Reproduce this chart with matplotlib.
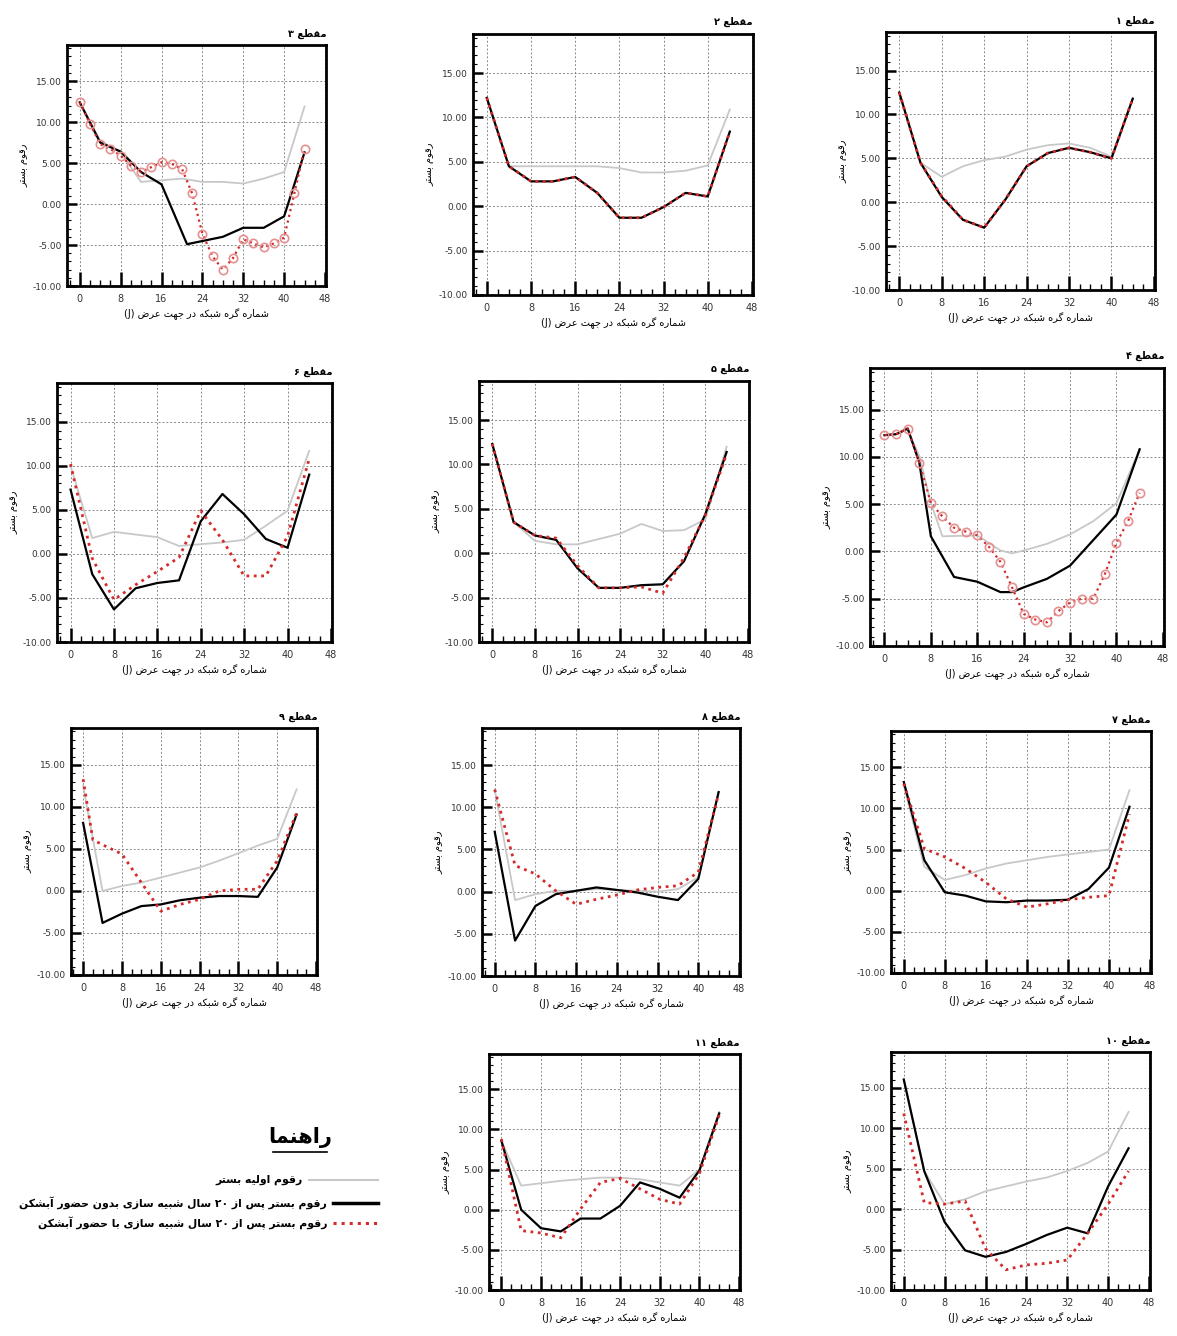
import re
import matplotlib
matplotlib.use("Agg")
import matplotlib.pyplot as plt
from matplotlib.lines import Line2D
from matplotlib.ticker import MultipleLocator, FormatStrFormatter

# ---------------- data (bed levels read from the sections) ----------------
j4 = [0, 4, 8, 12, 16, 20, 24, 28, 32, 36, 40, 44]
j2 = [0, 2, 4, 6, 8, 10, 12, 14, 16, 18, 20, 22, 24, 26, 28, 30, 32, 34, 36, 38, 40, 42, 44]

# section 1
s1_init = [12.5, 4.5, 2.9, 4.1, 4.8, 5.2, 6.0, 6.5, 6.7, 6.2, 5.2, 11.8]
s1_no = [12.5, 4.5, 0.6, -2.0, -2.9, 0.3, 4.1, 5.6, 6.2, 5.7, 5.0, 11.8]
s1_with = [12.5, 4.5, 0.7, -2.0, -2.9, 0.3, 4.1, 5.6, 6.2, 5.7, 5.0, 11.8]

# section 2
s2_init = [12.2, 4.5, 4.5, 4.5, 4.5, 4.5, 4.3, 3.8, 3.8, 4.0, 4.6, 10.9]
s2_no = [12.2, 4.5, 2.8, 2.8, 3.3, 1.5, -1.3, -1.3, -0.1, 1.5, 1.1, 8.4]
s2_with = [12.2, 4.5, 2.8, 2.8, 3.3, 1.5, -1.3, -1.3, -0.1, 1.5, 1.1, 8.4]

# section 3
s3_init = [12.4, 7.7, 6.3, 2.7, 2.9, 3.1, 2.7, 2.7, 2.5, 3.1, 3.9, 11.9]
s3_no_j = [0, 4, 8, 12, 16, 21, 28, 32, 36, 40, 44]
s3_no = [12.4, 7.5, 6.4, 3.9, 2.4, -4.9, -4.0, -2.9, -2.9, -1.5, 6.3]
s3_with = [12.4, 9.8, 7.3, 6.7, 5.9, 4.7, 3.9, 4.5, 5.1, 4.9, 4.3, 1.3,
           -3.6, -6.4, -8.0, -6.6, -4.3, -4.8, -5.3, -4.8, -4.1, 1.3, 6.7]

# section 4
s4_init_j = [0, 2, 4, 6, 8, 10, 16, 20, 22, 24, 28, 32, 36, 40, 44]
s4_init = [12.3, 12.4, 12.9, 10.1, 5.1, 1.6, 1.7, 0.1, -0.2, 0.1, 0.8, 1.8, 3.2, 5.1, 10.8]
s4_no_j = [0, 2, 4, 6, 8, 12, 16, 20, 22, 24, 28, 32, 36, 40, 44]
s4_no = [12.3, 12.4, 13.0, 9.4, 1.6, -2.7, -3.2, -4.3, -4.3, -3.8, -2.9, -1.5, 1.2, 3.9, 10.8]
s4_with = [12.3, 12.4, 13.0, 9.4, 5.1, 3.7, 2.5, 2.1, 1.7, 0.5, -1.1, -3.8,
           -6.6, -7.2, -7.5, -6.3, -5.4, -5.0, -5.0, -2.4, 0.9, 3.2, 6.2]

# section 5
s5_init = [12.3, 3.5, 1.4, 1.0, 1.0, 1.6, 2.2, 3.3, 2.5, 2.6, 3.8, 12.0]
s5_no = [12.3, 3.5, 2.0, 1.5, -1.7, -3.9, -3.9, -3.6, -3.5, -0.9, 4.4, 11.4]
s5_with = [12.3, 3.5, 2.0, 1.7, -1.4, -3.9, -3.9, -3.8, -4.5, -0.5, 4.3, 11.2]

# section 6
s6_init = [10.0, 1.8, 2.5, 2.2, 1.9, 0.9, 1.1, 1.3, 1.6, 3.2, 4.9, 11.7]
s6_no = [7.3, -2.3, -6.3, -3.9, -3.3, -3.0, 3.7, 6.8, 4.5, 1.7, 0.7, 9.0]
s6_with = [10.2, -0.5, -5.2, -3.5, -2.0, -0.4, 4.9, 1.6, -2.5, -2.5, 2.0, 10.8]

# section 7
s7_init = [12.8, 2.9, 1.3, 1.9, 2.7, 3.3, 3.7, 4.1, 4.4, 4.7, 5.0, 12.2]
s7_no = [13.2, 3.7, -0.2, -0.6, -1.3, -1.4, -1.2, -1.2, -1.1, 0.2, 2.8, 10.2]
s7_with = [13.0, 5.1, 4.1, 2.7, 1.0, -1.0, -2.0, -1.6, -1.1, -0.8, -0.6, 9.3]

# section 8
s8_init = [12.1, -1.0, -0.3, 0.1, 0.1, 0.3, 0.2, 0.1, 0.0, 0.3, 1.7, 11.8]
s8_no = [7.1, -5.8, -1.7, -0.3, 0.1, 0.5, 0.2, -0.1, -0.6, -1.0, 1.5, 11.8]
s8_with = [12.1, 3.1, 2.1, 0.1, -1.5, -0.9, -0.4, 0.2, 0.5, 0.7, 2.3, 11.6]

# section 9
s9_init = [12.5, 0.0, 0.6, 1.0, 1.6, 2.2, 2.8, 3.6, 4.5, 5.4, 6.2, 12.1]
s9_no = [8.1, -3.8, -2.7, -1.8, -1.6, -1.1, -0.8, -0.6, -0.6, -0.7, 2.8, 9.1]
s9_with_j = [0, 2, 4, 8, 12, 16, 20, 24, 28, 32, 36, 40, 44]
s9_with = [13.3, 6.1, 5.5, 4.4, 1.0, -2.4, -1.6, -1.0, 0.0, 0.2, 0.2, 3.6, 9.3]

# section 10
s10_init = [16.0, 4.7, 0.6, 1.2, 2.2, 2.8, 3.4, 3.9, 4.7, 5.7, 7.1, 12.0]
s10_no = [16.0, 4.7, -1.6, -5.1, -5.9, -5.3, -4.3, -3.2, -2.3, -3.0, 2.8, 7.5]
s10_with = [11.8, 0.8, 0.6, 1.0, -4.9, -7.5, -6.9, -6.7, -6.3, -3.0, 0.6, 4.7]

# section 11
s11_init = [8.6, 3.0, 3.3, 3.6, 3.8, 4.0, 4.0, 3.8, 3.4, 3.0, 5.0, 12.2]
s11_no = [8.6, 0.0, -2.3, -2.7, -1.1, -1.1, 0.5, 3.4, 2.6, 1.5, 4.9, 12.0]
s11_with = [8.8, -2.6, -2.9, -3.5, 0.1, 3.4, 3.9, 2.6, 1.3, 0.7, 4.5, 11.8]

# ---------------- persian text shaping (no bidi lib available) ----------------
FORMS = {
    '\u0627': (0xFE8D, 0xFE8E), '\u0622': (0xFE81, 0xFE82),
    '\u062F': (0xFEA9, 0xFEAA), '\u0631': (0xFEAD, 0xFEAE),
    '\u0632': (0xFEAF, 0xFEB0), '\u0648': (0xFEED, 0xFEEE),
    '\u0628': (0xFE8F, 0xFE90, 0xFE91, 0xFE92), '\u067E': (0xFB56, 0xFB57, 0xFB58, 0xFB59),
    '\u062A': (0xFE95, 0xFE96, 0xFE97, 0xFE98), '\u062C': (0xFE9D, 0xFE9E, 0xFE9F, 0xFEA0),
    '\u062D': (0xFEA1, 0xFEA2, 0xFEA3, 0xFEA4), '\u0633': (0xFEB1, 0xFEB2, 0xFEB3, 0xFEB4),
    '\u0634': (0xFEB5, 0xFEB6, 0xFEB7, 0xFEB8), '\u0636': (0xFEBD, 0xFEBE, 0xFEBF, 0xFEC0),
    '\u0637': (0xFEC1, 0xFEC2, 0xFEC3, 0xFEC4), '\u0639': (0xFEC9, 0xFECA, 0xFECB, 0xFECC),
    '\u0642': (0xFED5, 0xFED6, 0xFED7, 0xFED8), '\u06A9': (0xFB8E, 0xFB8F, 0xFB90, 0xFB91),
    '\u06AF': (0xFB92, 0xFB93, 0xFB94, 0xFB95), '\u0644': (0xFEDD, 0xFEDE, 0xFEDF, 0xFEE0),
    '\u0645': (0xFEE1, 0xFEE2, 0xFEE3, 0xFEE4), '\u0646': (0xFEE5, 0xFEE6, 0xFEE7, 0xFEE8),
    '\u0647': (0xFEE9, 0xFEEA, 0xFEEB, 0xFEEC), '\u06CC': (0xFBFC, 0xFBFD, 0xFBFE, 0xFBFF),
}
FA_DIGITS = str.maketrans('0123456789', '\u06F0\u06F1\u06F2\u06F3\u06F4\u06F5\u06F6\u06F7\u06F8\u06F9')


def shape(text):
    text = text.replace('\u064A', '\u06CC').replace('\u0643', '\u06A9')
    out = []
    for i, ch in enumerate(text):
        f = FORMS.get(ch)
        if f is None:
            out.append(ch)
            continue
        prev = text[i - 1] if i > 0 else ''
        nxt = text[i + 1] if i < len(text) - 1 else ''
        jp = prev in FORMS and len(FORMS[prev]) == 4
        jn = len(f) == 4 and nxt in FORMS
        if jp and jn:
            c = f[3]
        elif jp:
            c = f[1]
        elif jn:
            c = f[2]
        else:
            c = f[0]
        out.append(chr(c))
    return ''.join(out)


def rtl(text):
    s = shape(text.translate(FA_DIGITS))
    runs = re.findall(r'[0-9\u06F0-\u06F9A-Za-z().]+|[^0-9\u06F0-\u06F9A-Za-z().]+', s)
    out = []
    for r in reversed(runs):
        if re.match(r'[0-9\u06F0-\u06F9A-Za-z().]', r):
            out.append(r)
        else:
            out.append(r[::-1])
    return ''.join(out)


# ---------------- figure ----------------
W, H = 1177, 1336
fig = plt.figure(figsize=(W / 100, H / 100), dpi=100)

GRAY = '#c8c8c8'
RED = '#d42a2a'
ylab = rtl('رقوم بستر')
xlab = '(J) ' + rtl('شماره گره شبکه در جهت عرض')


def add_panel(box, num, xi, yi, xn, yn, xw, yw, markers=False):
    l, r, t, b = box
    ax = fig.add_axes([l / W, 1 - b / H, (r - l) / W, (b - t) / H])
    ax.plot(xi, yi, color=GRAY, lw=1.3, zorder=3)
    ax.plot(xn, yn, color='black', lw=1.6, zorder=4)
    if markers:
        ax.plot(xw, yw, color=RED, lw=1.6, ls=':', marker='o', ms=6,
                mfc='none', mec='#e59090', mew=1.2, zorder=5)
    else:
        ax.plot(xw, yw, color=RED, lw=2.0, ls=':', zorder=5)

    ax.set_xlim(-2.5, 48.2)
    ax.set_ylim(-10, 19.4)
    ax.xaxis.set_major_locator(MultipleLocator(8))
    ax.xaxis.set_minor_locator(MultipleLocator(2))
    ax.yaxis.set_major_locator(MultipleLocator(5))
    ax.yaxis.set_minor_locator(MultipleLocator(1))
    ax.yaxis.set_major_formatter(FormatStrFormatter('%.2f'))
    ax.tick_params(axis='x', which='major', direction='in', length=10, width=1.8,
                   labelsize=7, pad=6, colors='black', labelcolor='#333333')
    ax.tick_params(axis='x', which='minor', direction='in', length=4, width=1)
    ax.tick_params(axis='y', which='major', direction='in', length=7, width=1.8,
                   labelsize=6.5, pad=4, labelcolor='#333333')
    ax.tick_params(axis='y', which='minor', direction='in', length=3, width=0.8)
    ax.grid(True, which='major', color='#8a8a8a', ls=(0, (2, 2)), lw=0.7)
    for sp in ax.spines.values():
        sp.set_linewidth(2)
    ax.set_ylabel(ylab, fontsize=7, labelpad=3)
    ax.set_xlabel(xlab, fontsize=7, labelpad=3)
    ax.text(1.0, 1.025, rtl('مقطع ' + str(num)), transform=ax.transAxes,
            ha='right', va='bottom', fontsize=7, fontweight='bold')
    return ax


add_panel((886, 1155, 32, 290), 1, j4, s1_init, j4, s1_no, j4, s1_with)
add_panel((473, 753, 34, 295), 2, j4, s2_init, j4, s2_no, j4, s2_with)
add_panel((67, 326, 45, 286), 3, j4, s3_init, s3_no_j, s3_no, j2, s3_with, markers=True)
add_panel((870, 1164, 368, 646), 4, s4_init_j, s4_init, s4_no_j, s4_no, j2, s4_with, markers=True)
add_panel((479, 749, 381, 642), 5, j4, s5_init, j4, s5_no, j4, s5_with)
add_panel((57, 332, 383, 642), 6, j4, s6_init, j4, s6_no, j4, s6_with)
add_panel((891, 1151, 731, 973), 7, j4, s7_init, j4, s7_no, j4, s7_with)
add_panel((482, 740, 728, 976), 8, j4, s8_init, j4, s8_no, j4, s8_with)
add_panel((71, 317, 728, 975), 9, j4, s9_init, j4, s9_no, s9_with_j, s9_with)
add_panel((891, 1150, 1052, 1290), 10, j4, s10_init, j4, s10_no, j4, s10_with)
add_panel((489, 740, 1054, 1290), 11, j4, s11_init, j4, s11_no, j4, s11_with)

# ---------------- legend (bottom left) ----------------
def fx(px):
    return px / W


def fy(py):
    return 1 - py / H


fig.text(fx(300), fy(1137), rtl('راهنما'), ha='center', va='center',
         fontsize=15, fontweight='bold')
fig.add_artist(Line2D([fx(273), fx(327)], [fy(1152), fy(1152)], color='black', lw=1.2))

leg_rows = [
    (1180, 309, GRAY, '-', 1.5, 'رقوم اولیه بستر'),
    (1203, 333, 'black', '-', 2.5, 'رقوم بستر پس از 20 سال شبیه سازی بدون حضور آبشکن'),
    (1223, 333, RED, ':', 2.2, 'رقوم بستر پس از 20 سال شبیه سازی با حضور آبشکن'),
]
for y, x0, col, ls, lw, label in leg_rows:
    fig.add_artist(Line2D([fx(x0), fx(378)], [fy(y), fy(y)], color=col, ls=ls, lw=lw))
    fig.text(fx(x0 - 6), fy(y), rtl(label), ha='right', va='center',
             fontsize=7.8, fontweight='bold')

fig.savefig('out.png', dpi=100)
